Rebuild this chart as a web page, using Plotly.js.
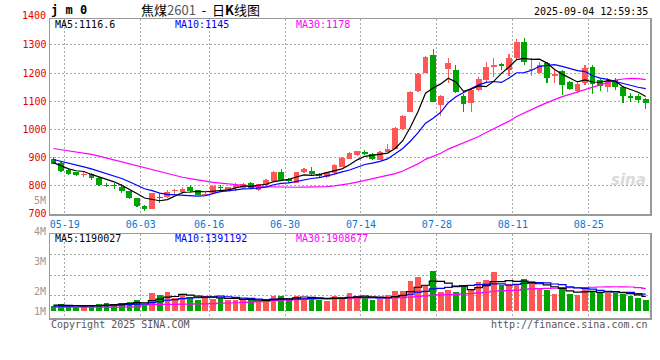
<!DOCTYPE html>
<html>
<head>
<meta charset="utf-8">
<script src="https://cdn.plot.ly/plotly-3.0.1.min.js"></script>
<style>html,body{margin:0;padding:0;background:#fff;}#chart{width:660px;height:360px;}</style>
</head>
<body>
<div id="chart"></div>
<script>
// ---------------- data ----------------
const dates = ["05-16","05-19","05-20","05-21","05-22","05-23","05-26","05-27","05-28","05-29","05-30",
"06-03","06-04","06-05","06-06","06-09","06-10","06-11","06-12","06-13","06-16","06-17","06-18","06-19","06-20",
"06-23","06-24","06-25","06-26","06-27","06-30","07-01","07-02","07-03","07-04","07-07","07-08","07-09","07-10",
"07-11","07-14","07-15","07-16","07-17","07-18","07-21","07-22","07-23","07-24","07-25","07-28","07-29","07-30",
"07-31","08-01","08-04","08-05","08-06","08-07","08-08","08-11","08-12","08-13","08-14","08-15","08-18","08-19",
"08-20","08-21","08-22","08-25","08-26","08-27","08-28","08-29","09-01","09-02","09-03","09-04"];
const open  = [894,880,854,847,838,842,828,803,802,797,780,756,729,718,760,761,780,779,795,784,768,773,796,783,791,
793,809,783,803,817,850,823,811,847,853,841,831,845,868,896,910,920,913,892,920,931,1001,1063,1137,1202,1264,1087,1215,
1211,1120,1095,1140,1176,1223,1231,1211,1253,1309,1210,1201,1235,1188,1209,1170,1138,1164,1223,1176,1152,1176,1152,1120,1120,1108];
const high  = [902,883,858,849,847,845,830,810,809,806,782,757,733,775,773,786,790,796,803,786,776,801,803,797,808,
810,812,807,823,852,859,828,849,863,866,846,850,877,901,918,925,926,916,922,948,1007,1050,1136,1199,1260,1284,1122,1253,
1230,1125,1142,1186,1240,1253,1237,1268,1320,1326,1253,1240,1240,1211,1212,1173,1166,1230,1230,1180,1182,1182,1155,1128,1126,1110];
const low   = [876,848,838,835,832,822,800,794,788,774,752,724,711,716,740,757,772,770,775,766,764,771,783,780,782,
790,788,780,800,815,818,810,808,845,838,832,829,843,866,894,906,908,893,890,918,929,998,1060,1131,1200,1097,1048,1164,
1128,1060,1063,1138,1170,1187,1211,1190,1245,1230,1190,1198,1164,1166,1122,1140,1128,1157,1125,1135,1131,1140,1093,1098,1095,1072];
const close = [878,851,843,837,843,826,803,799,798,780,758,727,719,773,756,779,783,788,782,768,772,799,792,795,803,
806,791,805,821,850,821,815,847,859,841,836,848,875,899,915,922,911,896,920,930,1005,1048,1134,1197,1258,1099,1120,1235,
1131,1089,1140,1178,1220,1230,1226,1253,1309,1241,1214,1229,1184,1196,1158,1143,1162,1218,1160,1154,1172,1152,1118,1112,1106,1095];
// volume, millions
const volumeM = [0.40,0.57,0.40,0.36,0.48,0.48,0.57,0.65,0.57,0.65,0.74,0.90,0.55,1.53,1.33,1.61,1.13,1.44,1.19,0.91,
1.25,1.05,1.13,0.96,0.90,0.90,1.05,0.80,0.80,1.25,1.25,1.05,1.25,1.13,1.13,0.96,0.85,1.24,1.13,1.53,
1.24,1.13,0.96,1.02,1.33,1.67,1.67,2.52,2.88,2.18,3.39,1.61,1.75,1.61,2.18,1.89,2.46,2.60,3.31,2.18,
2.32,2.18,2.69,2.52,1.84,1.81,1.41,2.03,1.41,1.33,1.89,1.69,1.61,1.53,1.53,1.41,1.27,1.10,0.90];
// moving-average values before enough history
const ma5Head  = [882,870,860,853];
const ma10Head = [893,887,881,874,867,860,851,843,835];
const ma30Head = [932,928,924,920,915,911,905,898,892,885,879,871,864,857,850,843,836,830,825,820,816,812,809,806,804,801,799,797,796];
const volMa5Head  = [0.50,0.49,0.47,0.45];
const volMa10Head = [0.42,0.42,0.42,0.43,0.43,0.44,0.45,0.46,0.48];
const volMa30Head = [0.33,0.33,0.33,0.33,0.33,0.33,0.33,0.33,0.33,0.33,0.33,0.34,0.52,0.54,0.55,0.56,0.57,0.58,0.59,0.60,0.61,0.63,0.66,0.68,0.70,0.73,0.76,0.79,0.82];

const tickDates  = ["05-19","06-03","06-16","06-30","07-14","07-28","08-11","08-25"];
const priceTicks = [700,800,900,1000,1100,1200,1300];
const priceTopLabel = "1400";
const volLabels  = ["5M","4M","3M","2M","1M"];
const mainLegend = ["MA5:1116.6","MA10:1145","MA30:1178"];
const volLegend  = ["MA5:1190027","MA10:1391192","MA30:1908677"];

// ---------------- helpers ----------------
const W = 660, H = 360;
const px = x => x / W;
const py = y => 1 - y / H;
const MONO = "DejaVu Sans Mono, Liberation Mono, monospace";
const UP = "#ff5656", DOWN = "#00a400";
const MA_COL = ["#000000", "#0000ff", "#ff00ff"];

function movingAvg(arr, n, head) {
  return arr.map((_, i) => {
    if (i < n - 1) return head[i];
    let s = 0;
    for (let k = i - n + 1; k <= i; k++) s += arr[k];
    return s / n;
  });
}

const idx = dates.map((_, i) => i);
const colors = close.map((c, i) => (c >= open[i] ? UP : DOWN));
const bodyBase = open.map((o, i) => Math.min(o, close[i]));
const bodyLen = open.map((o, i) => Math.max(Math.abs(close[i] - o), 2.5));
const wickLen = high.map((h, i) => h - low[i]);

const ma5 = movingAvg(close, 5, ma5Head);
const ma10 = movingAvg(close, 10, ma10Head);
const ma30 = movingAvg(close, 30, ma30Head);
const vma5 = movingAvg(volumeM, 5, volMa5Head);
const vma10 = movingAvg(volumeM, 10, volMa10Head);
const vma30 = movingAvg(volumeM, 30, volMa30Head);

const traces = [
  {type: "bar", x: idx, base: low, y: wickLen, width: 0.15,
   marker: {color: colors, line: {width: 0}}, xaxis: "x", yaxis: "y", hoverinfo: "skip"},
  {type: "bar", x: idx, base: bodyBase, y: bodyLen, width: 0.76,
   marker: {color: colors, line: {width: 0}}, xaxis: "x", yaxis: "y", hoverinfo: "skip"},
  {type: "scatter", mode: "lines", x: idx, y: ma30, line: {color: MA_COL[2], width: 1.2}, xaxis: "x", yaxis: "y"},
  {type: "scatter", mode: "lines", x: idx, y: ma10, line: {color: MA_COL[1], width: 1.2}, xaxis: "x", yaxis: "y"},
  {type: "scatter", mode: "lines", x: idx, y: ma5, line: {color: MA_COL[0], width: 1.2}, xaxis: "x", yaxis: "y"},
  {type: "bar", x: idx, y: volumeM, width: 0.74,
   marker: {color: colors, line: {width: 0}}, xaxis: "x2", yaxis: "y2", hoverinfo: "skip"},
  {type: "scatter", mode: "lines", x: idx, y: vma30, line: {color: MA_COL[2], width: 1.2, shape: "hvh"}, xaxis: "x2", yaxis: "y2"},
  {type: "scatter", mode: "lines", x: idx, y: vma10, line: {color: MA_COL[1], width: 1.2, shape: "hvh"}, xaxis: "x2", yaxis: "y2"},
  {type: "scatter", mode: "lines", x: idx, y: vma5, line: {color: MA_COL[0], width: 1.2, shape: "hvh"}, xaxis: "x2", yaxis: "y2"}
];

const dateTickVals = tickDates.map(d => dates.indexOf(d) + 0.5);
const GRID = {showgrid: true, gridcolor: "#aaaaaa", gridwidth: 1, griddash: "2px,2px",
              showline: true, mirror: true, linecolor: "#999999", linewidth: 1.5,
              zeroline: false, ticks: "", automargin: false, fixedrange: true};
const xRange = [-0.45, 78.56];

const annotations = [];
function addText(text, x, y, opts) {
  annotations.push(Object.assign({text: text, x: px(x), y: py(y), xref: "paper", yref: "paper",
    showarrow: false, xanchor: "left", yanchor: "middle", borderpad: 0,
    font: {family: MONO, size: 10, color: "#000"}}, opts || {}));
}
// title row
addText("<b>j m 0</b>", 50, 10, {font: {family: MONO, size: 12, color: "#000"}});
addText("焦煤<span style='color:#555'>2601</span>  -  日<b>K</b>线图", 200, 9,
        {xanchor: "center", font: {family: "Noto Sans CJK SC", size: 13, color: "#000"}});
addText("2025-09-04 12:59:35", 649, 11, {xanchor: "right"});
// price axis top label
addText(priceTopLabel, 47, 16, {xanchor: "right", font: {family: MONO, size: 10, color: "#e60000"}});
// legends
const legendX = [54, 174, 295];
mainLegend.forEach((t, i) => addText(t, legendX[i], 25, {font: {family: MONO, size: 10, color: MA_COL[i]}}));
volLegend.forEach((t, i) => addText(t, legendX[i], 238, {font: {family: MONO, size: 10, color: MA_COL[i]}}));
// volume axis labels
const volLabelY = [200, 231, 261, 291, 311];
volLabels.forEach((t, i) => addText(t, 47, volLabelY[i], {xanchor: "right", font: {family: MONO, size: 10, color: "#999"}}));
// footer
addText("Copyright 2025 SINA.COM", 50, 324, {font: {family: MONO, size: 10, color: "#555"}});
addText("http://finance.sina.com.cn", 649, 324, {xanchor: "right", font: {family: MONO, size: 10, color: "#555"}});
// watermark
addText("<b><i>sina</i></b>", 628, 180, {xanchor: "center", font: {family: "DejaVu Sans", size: 15, color: "#dadada"}});

const layout = {
  width: W, height: H, margin: {l: 0, r: 0, t: 0, b: 0},
  paper_bgcolor: "#ffffff", plot_bgcolor: "#ffffff",
  showlegend: false, barmode: "overlay", bargap: 0,
  font: {family: MONO, size: 10, color: "#000"},
  xaxis: Object.assign({}, GRID, {domain: [px(50), px(650)], range: xRange, anchor: "y",
    tickmode: "array", tickvals: dateTickVals, ticktext: tickDates,
    tickfont: {family: MONO, size: 10, color: "#0a78d2"}}),
  yaxis: Object.assign({}, GRID, {domain: [py(214), py(19)], range: [699.5, 1392], anchor: "x",
    tickmode: "array", tickvals: priceTicks, ticktext: priceTicks.map(String),
    tickfont: {family: MONO, size: 10, color: "#e60000"}}),
  xaxis2: Object.assign({}, GRID, {domain: [px(50), px(650)], range: xRange, anchor: "y2",
    tickmode: "array", tickvals: dateTickVals, showticklabels: false}),
  yaxis2: Object.assign({}, GRID, {domain: [py(318), py(234)], range: [-0.593, 6.525], anchor: "x2",
    tickmode: "array", tickvals: [1.356, 3.051, 4.746], showticklabels: false}),
  annotations: annotations
};

Plotly.newPlot("chart", traces, layout, {displayModeBar: false, staticPlot: true});
</script>
</body>
</html>
